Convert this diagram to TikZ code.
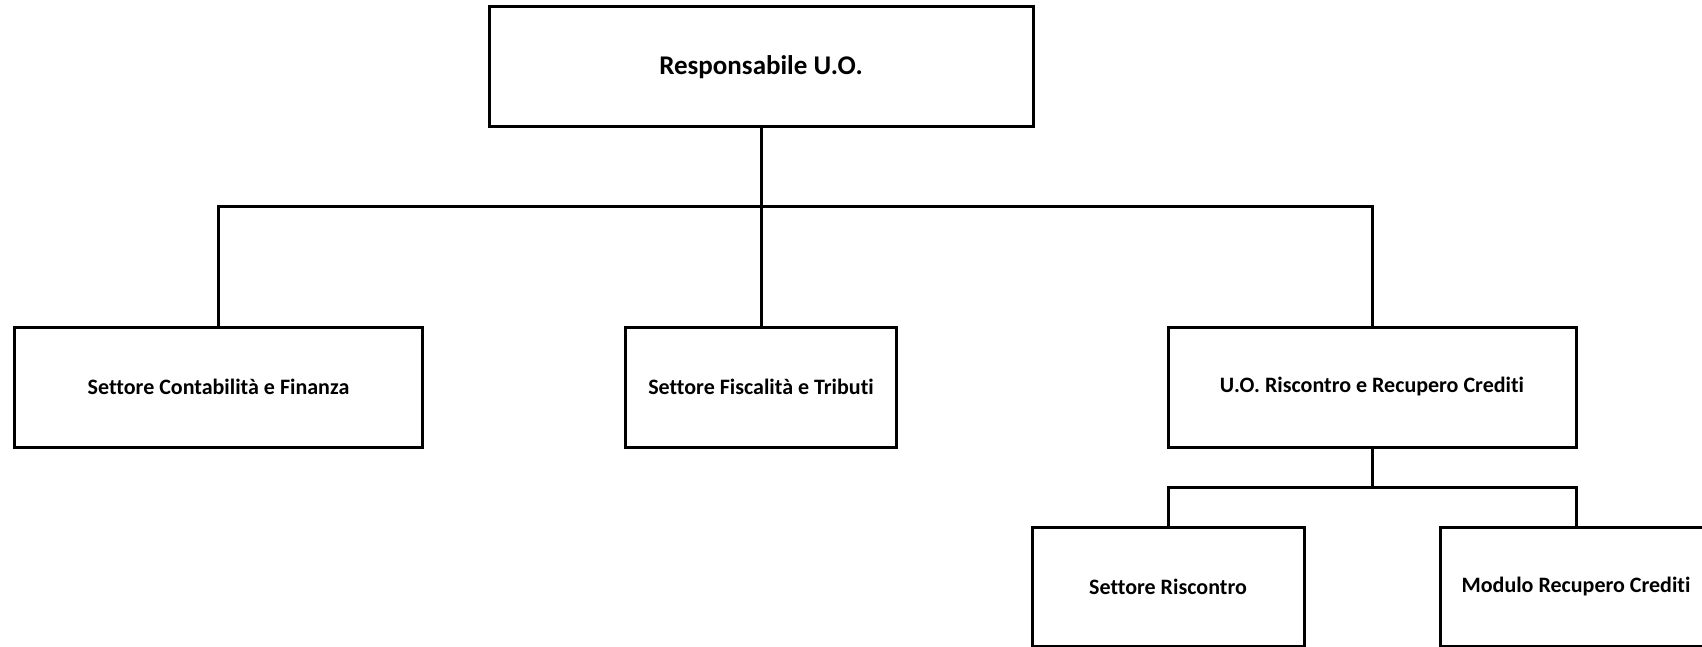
\documentclass[tikz,border=0pt]{standalone}
\usepackage{fontspec}
\setmainfont{Carlito}[Ligatures=CommonOff]
\begin{document}
\begin{tikzpicture}[x=1bp,y=-1bp,
  box/.style={draw=black, line width=3bp, rectangle, inner sep=0pt, outer sep=0pt,
    minimum height=120bp, font=\fontsize{22bp}{26bp}\selectfont\bfseries},
  conn/.style={draw=black, line width=3bp}]
\useasboundingbox (0,0) rectangle (1702,647);
\clip (0,0) rectangle (1702,647);
\node[box, minimum width=544bp, font=\fontsize{27bp}{32bp}\selectfont\bfseries] (top) at (761,67) {Responsabile U.O.};
\node[box, minimum width=407bp] (left) at (218.5,387) {Settore Contabilità e Finanza};
\node[box, minimum width=271bp] (mid) at (761,387) {Settore Fiscalità e Tributi};
\node[box, minimum width=408bp] (right) at (1372,387) {U.O. Riscontro e Recupero Crediti};
\node[box, minimum width=272bp, minimum height=119bp] (bl) at (1168,586.5) {Settore Riscontro};
\node[box, minimum width=272bp, minimum height=119bp] (br) at (1576,586.5) {Modulo Recupero Crediti};
\coordinate (j1) at (761,207);
\coordinate (j2) at (1372,487);
\draw[conn] (top.south) -- (j1);
\draw[conn] (j1) -- (mid.north);
\draw[conn] (left.north) |- (j1) -| (right.north);
\draw[conn] (right.south) -- (j2);
\draw[conn] (bl.north) |- (j2) -| (br.north);
\end{tikzpicture}
\end{document}
